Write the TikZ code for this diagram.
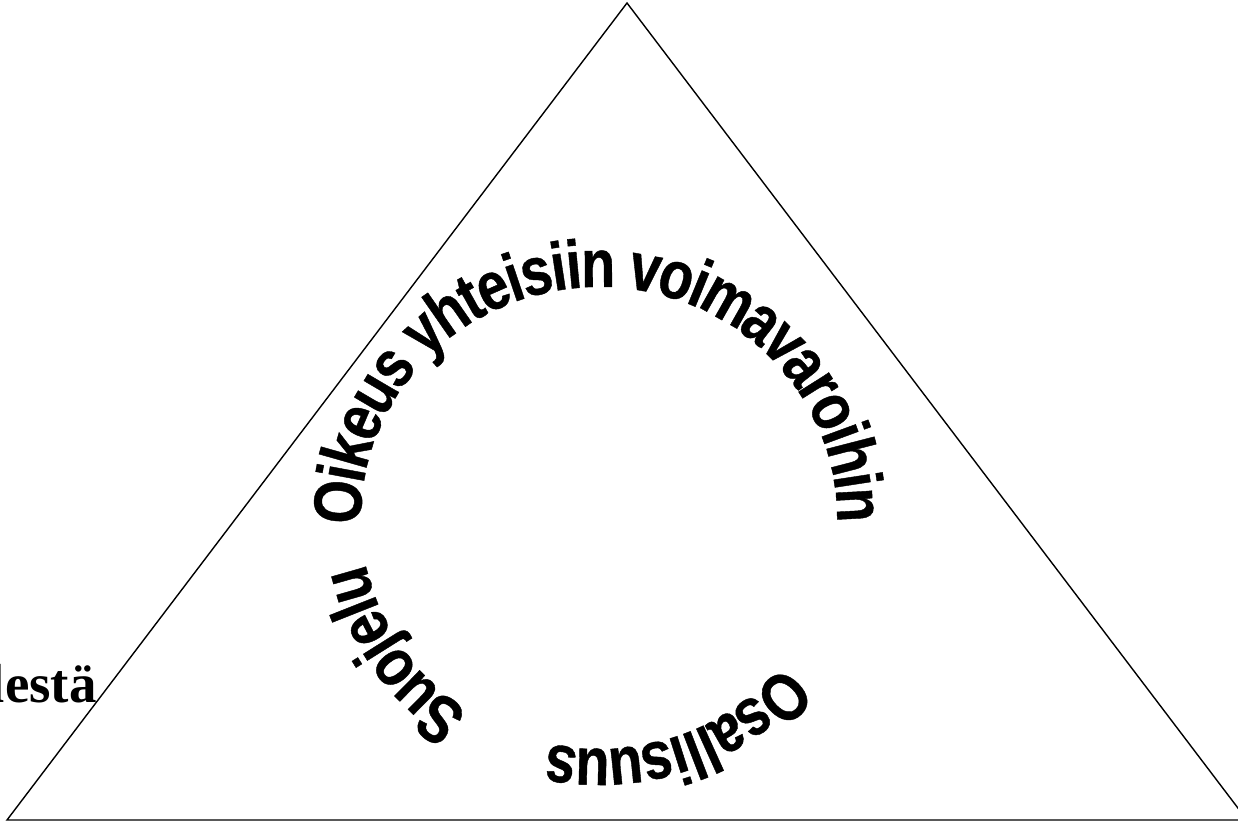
\documentclass[tikz,border=0pt]{standalone}
\usepackage{fontspec}
\usetikzlibrary{decorations.text,calc}
\newfontfamily\arcfont[FakeStretch=0.82,FakeBold=0.6,UprightFont={* Bold}]{Liberation Sans}
\newfontfamily\serifbold[UprightFont={* Bold}]{Liberation Serif}
\begin{document}
\begin{tikzpicture}[x=1pt,y=1pt,
  edge/.style={draw=black,line width=1.4pt},
  arctext/.style={decorate,decoration={text along path,raise=-24pt,
    text={|\arcfont\fontsize{68}{69}\selectfont|#1}}}]
\useasboundingbox (0,0) rectangle (1238,823);
% triangle
\coordinate (apex) at (627,820);
\coordinate (bl) at (7,3);
\coordinate (br) at (1247,3);
\draw[edge,line join=miter] (bl) -- (apex) -- (br) -- cycle;
% circle of text (path at mid letter height, baseline lowered)
\coordinate (C) at (599,305);
\coordinate (s1) at ($(C)+(181.2:262 and 255)$);
\coordinate (s2) at ($(C)+(-40:262 and 255)$);
\coordinate (s3) at ($(C)+(-123.5:262 and 255)$);
\path[arctext={Oikeus yhteisiin voimavaroihin}]
  (s1) arc[start angle=181.2,end angle=-25,x radius=262,y radius=255];
\path[arctext={Osallisuus}]
  (s2) arc[start angle=-40,end angle=-118,x radius=262,y radius=255];
\path[arctext={Suojelu}]
  (s3) arc[start angle=-123.5,end angle=-180,x radius=262,y radius=255];
% cut-off label at left
\node[anchor=base east,inner sep=0pt,font=\serifbold\fontsize{55}{60}\selectfont] (lbl) at (97,121) {lestä};
\end{tikzpicture}
\end{document}
